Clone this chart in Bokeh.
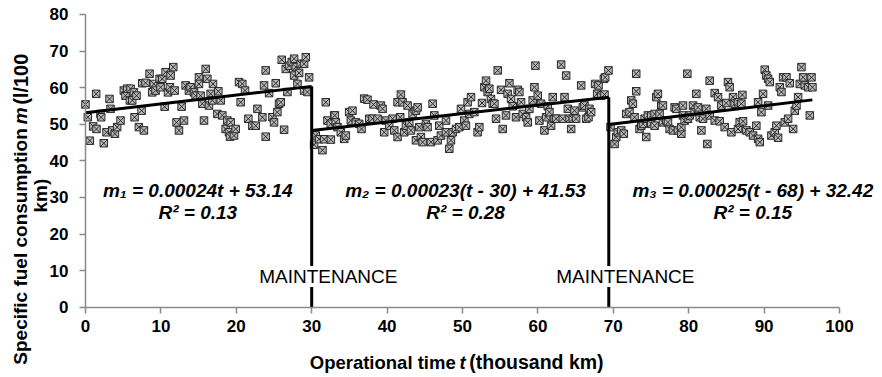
import math
from bokeh.plotting import figure
from bokeh.models import Label, FixedTicker, Range1d
from bokeh.embed import file_html
from bokeh.resources import INLINE

# ---- data: operational time t (thousand km) and specific fuel consumption m (l/100 km)
t1 = [0, 0.31, 0.58, 1.02, 1.42, 1.46, 1.99, 2.08, 2.43, 2.79, 3.19, 3.32, 3.54, 3.90, 4.2, 4.65,
      5.09, 5.31, 5.53, 5.89, 5.98, 6.2, 6.42, 6.51, 6.77, 7.08, 7.44, 7.53, 7.75, 7.97, 8.5, 8.85,
      9.07, 9.3, 9.83, 9.96, 10.18, 10.5, 10.63, 10.94, 11.2, 11.29, 11.64, 11.82, 12.08, 12.4, 12.75,
      13.06, 13.28, 13.72, 13.94, 14.39, 14.61, 15.05, 15.05, 15.27, 15.5, 15.72, 15.94, 16.16, 16.38,
      16.6, 16.82, 16.91, 17.49, 17.62, 17.93, 18.15, 18.59, 18.81, 19.03, 19.17, 19.26, 19.7, 19.92,
      20.36, 20.58, 20.8, 21.16, 21.6, 22.13, 22.58, 22.8, 23.46, 23.68, 23.9, 23.9, 24.35, 24.79,
      25.01, 25.23, 25.45, 25.67, 25.9, 26.03, 26.34, 26.56, 26.78, 27.0, 27.36, 27.67, 27.67, 27.89,
      28.11, 28.33, 28.55, 28.99, 28.99, 29.22, 29.44, 29.66]
m1 = [55.4, 51.9, 45.5, 49.4, 58.3, 48.7, 52.8, 51.9, 44.8, 47.8, 56.9, 54.2, 48.3, 47.4, 49.2, 51.0,
      59.2, 57.8, 59.7, 56.5, 59.7, 56.5, 58.7, 51.9, 57.8, 49.2, 53.7, 61.2, 48.3, 61.3, 63.8, 58.7,
      61.0, 59.2, 62.4, 60.1, 62.4, 54.8, 64.2, 58.7, 60.1, 63.3, 65.6, 59.2, 50.5, 48.3, 54.8,
      51.0, 60.6, 59.2, 60.1, 58.7, 57.8, 62.8, 61.0, 57.8, 55.6, 51.0, 65.1, 62.4, 55.1,
      58.3, 56.5, 61.0, 52.8, 59.0, 56.5, 52.4, 48.7, 51.0, 47.8, 46.6, 50.5, 46.9, 48.7,
      61.5, 56.0, 61.0, 59.2, 51.5, 49.6, 49.6, 54.2, 51.9, 60.6, 64.7, 46.6, 58.5, 51.9,
      50.5, 61.2, 53.3, 55.6, 56.0, 67.6, 48.5, 65.1, 58.8, 66.0, 67.0, 67.9, 63.3, 65.6,
      61.0, 64.0, 66.5, 66.5, 59.2, 68.3, 58.8, 62.8]

t2 = [30.32, 30.54, 30.98, 31.43, 31.65, 31.87, 32.09, 32.53, 32.54, 32.98, 33.07, 33.2, 33.42, 33.86,
      34.31, 34.53, 34.97, 35.19, 35.41, 35.86, 36.3, 36.61, 36.96, 37.4, 37.63, 38.07, 38.2, 38.73,
      39.17, 39.4, 39.62, 39.84, 40.28, 40.73, 40.95, 41.39, 41.39, 41.74, 41.83, 42.05, 42.28, 42.5,
      42.72, 42.94, 43.16, 43.38, 43.83, 43.83, 44.05, 44.27, 44.49, 44.71, 45.15, 45.37, 45.82, 46.04,
      46.26, 46.7, 46.92, 47.14, 47.81, 47.81, 48.25, 48.47, 48.7, 49.14, 49.58, 49.8,
      50.24, 50.46, 50.68, 50.9, 51.13, 51.57, 52.01, 52.23, 52.59, 52.9, 53.12, 53.34, 53.56, 53.78,
      54.0, 54.23, 54.45, 54.67, 55.11, 55.33, 55.77, 55.99, 56.22, 56.44, 56.66, 57.1, 57.32, 57.54,
      57.77, 57.99, 58.43, 58.65, 58.87, 59.31, 59.54, 59.67, 59.98, 60.2, 60.42, 60.87, 61.09, 61.31,
      61.53, 61.75, 61.97, 62.2, 62.42, 63.08, 63.3, 63.53, 63.75, 63.97, 64.19, 64.41, 64.63, 64.85,
      65.07, 65.74, 65.96, 66.18, 66.4, 66.71, 66.84, 67.06, 67.59, 67.86, 68.04, 68.39, 68.75, 68.83,
      68.92, 69.36]
m2 = [44.4, 46.9, 45.9, 42.9, 45.9, 56.0, 51.0, 50.1, 45.8, 52.4, 52.4, 50.5, 49.2, 47.8,
      46.0, 46.9, 53.3, 51.0, 53.7, 50.5, 50.1, 48.7, 57.0, 56.7, 51.5, 51.5, 55.4, 51.5,
      55.1, 54.2, 47.8, 51.0, 49.6, 51.5, 48.3, 46.5, 56.0, 51.9, 58.1, 56.0, 47.8, 49.6,
      55.1, 50.5, 48.3, 52.8, 53.7, 45.6, 54.6, 49.2, 46.5, 45.1, 50.1, 49.2, 45.1, 55.6,
      52.4, 45.6, 49.6, 46.9, 51.0, 47.8, 43.3, 45.6, 47.8, 48.7, 49.2, 54.2,
      51.0, 49.6, 56.0, 52.8, 57.4, 53.3, 47.8, 49.2, 55.8, 60.1, 61.9, 58.8, 59.7, 56.9,
      55.6, 55.6, 51.5, 64.7, 59.4, 48.7, 52.4, 58.3, 61.2, 56.9, 54.9, 51.9, 59.4, 58.8,
      56.0, 52.8, 51.9, 50.5, 54.2, 56.5, 60.1, 66.0, 57.8, 51.0, 55.6, 48.3, 51.9, 54.9,
      53.3, 49.6, 57.4, 51.5, 51.5, 66.3, 51.5, 57.4, 63.3, 54.2, 51.5, 48.7, 51.5, 53.7,
      51.5, 60.6, 54.6, 55.1, 51.5, 51.9, 54.2, 53.3, 61.0, 58.3, 60.6, 57.8, 62.4, 58.1,
      62.8, 64.7]

t3 = [69.63, 70.17, 70.39, 70.61, 71.05, 71.39, 71.71, 72.15, 72.38, 72.6, 72.82, 73.04, 73.04, 73.48,
      73.71, 73.93, 74.15, 74.37, 74.59, 75.03, 75.03, 75.48, 75.48, 75.7, 75.92, 76.14, 76.36, 76.58,
      76.58, 77.03, 77.25, 77.47, 77.91, 78.13, 78.36, 78.58, 79.02, 79.02, 79.24, 79.24, 79.46, 79.82,
      79.9, 80.13, 80.57, 80.79, 81.01, 81.23, 81.46, 81.68, 81.9, 82.34, 82.47, 82.78, 82.78,
      83.45, 83.45, 83.89, 84.11, 84.33, 84.77, 84.99, 85.21, 85.43, 85.66, 85.88, 86.1, 86.54, 86.54,
      86.76, 86.98, 87.12, 87.2, 87.65, 88.09, 88.53, 88.97, 89.2, 89.2, 89.42, 89.64, 89.86, 90.08,
      90.3, 90.53, 90.53, 90.75, 90.97, 91.41, 91.63, 91.85, 92.08, 92.3, 92.52, 92.74, 92.96, 93.18,
      93.4, 93.85, 94.07, 94.29, 94.51, 94.73, 94.95, 95.17, 95.4, 95.84, 96.06, 96.28, 96.41]
m3 = [49.2, 44.6, 46.5, 47.8, 48.3, 47.4, 52.8, 53.3, 56.5, 55.6, 51.9, 63.8, 59.0, 48.7,
      49.6, 50.1, 51.5, 46.5, 52.4, 50.1, 52.4, 49.6, 52.8, 57.4, 58.3, 52.8, 55.1, 55.1,
      50.5, 51.0, 50.5, 48.7, 48.3, 54.6, 54.2, 48.3, 47.4, 49.2, 55.1, 52.4, 51.0, 63.8,
      51.5, 52.4, 55.1, 53.3, 58.3, 54.6, 51.9, 48.3, 51.5, 54.2, 44.6, 61.9, 52.4,
      58.5, 51.0, 57.4, 50.8, 55.1, 49.2, 55.8, 61.5, 60.1, 47.8, 57.4, 55.6, 56.0, 48.7,
      50.5, 55.6, 58.0, 50.8, 48.3, 47.8, 46.9, 49.6, 46.0, 56.0, 45.1, 53.3, 58.3, 64.9,
      63.3, 62.4, 55.1, 61.5, 46.9, 47.8, 49.6, 46.3, 60.1, 58.8, 62.8, 50.5, 62.8, 51.5,
      61.2, 48.7, 53.7, 55.1, 57.4, 61.0, 65.6, 62.8, 60.6, 60.1, 52.4, 62.8, 60.1]

# regression lines per operating interval (slope in l/100 km per thousand km)
seg_start = [0, 30, 69.4]
seg_end = [30, 69.4, 96.4]
fit_slope = [0.24, 0.23, 0.25]
fit_at_start = [53.14, 48.3, 49.9]
maintenance_t = [30, 69.4]

eq_texts = ["m\u2081 = 0.00024t + 53.14", "m\u2082 = 0.00023(t - 30) + 41.53", "m\u2083 = 0.00025(t - 68) + 32.42"]
r2_texts = ["R\u00b2 = 0.13", "R\u00b2 = 0.28", "R\u00b2 = 0.15"]
eq_x = [14.9, 50.4, 88.5]

x_ticks = list(range(0, 101, 10))
y_ticks = list(range(0, 81, 10))

FONT = "Liberation Sans"

# frame covers the whole canvas; axes are pinned at t = 0 and m = 0
p = figure(width=882, height=377, output_backend="svg", toolbar_location=None,
           x_range=Range1d(-11.27, 105.7), y_range=Range1d(-19.2, 83.8),
           min_border=0, min_border_left=0, min_border_right=0, min_border_top=0, min_border_bottom=0)
p.outline_line_color = None
p.grid.visible = False
p.background_fill_color = "white"
p.border_fill_color = "white"

p.xaxis.fixed_location = 0
p.yaxis.fixed_location = 0
p.xaxis.bounds = (0, 100)
p.yaxis.bounds = (0, 80)

for ax, ticks in ((p.xaxis, x_ticks), (p.yaxis, y_ticks)):
    ax.ticker = FixedTicker(ticks=ticks)
    ax.axis_line_color = "#8a8a8a"
    ax.axis_line_width = 1.5
    ax.major_tick_line_color = "#8a8a8a"
    ax.major_tick_line_width = 1.5
    ax.major_tick_out = 6
    ax.major_tick_in = 0
    ax.minor_tick_line_color = None
    ax.major_label_text_font = FONT
    ax.major_label_text_font_style = "bold"
    ax.major_label_text_font_size = "17px"
    ax.major_label_text_color = "black"
p.xaxis.major_label_standoff = 7
p.yaxis.major_label_standoff = 11

# scatter points
p.scatter(t1 + t2 + t3, m1 + m2 + m3, marker="square_x", size=7.5,
          fill_color="#b8b8b8", line_color="#2a2a2a", line_width=1)

# regression lines
ends = []
for s, e, k, b in zip(seg_start, seg_end, fit_slope, fit_at_start):
    p.line([s, e], [b, b + k * (e - s)], line_color="black", line_width=3)
    ends.append(b + k * (e - s))

# maintenance verticals
p.segment(x0=maintenance_t, y0=[0, 0], x1=maintenance_t, y1=ends[:2], line_color="black", line_width=3)

for t in maintenance_t:
    p.add_layout(Label(x=t + 2.2, y=8.4, text="MAINTENANCE", text_align="center", text_baseline="middle",
                       text_font=FONT, text_font_size="19px", text_color="black",
                       background_fill_color="white"))

for x, eq, r2 in zip(eq_x, eq_texts, r2_texts):
    p.add_layout(Label(x=x, y=32.0, text=eq, text_align="center", text_baseline="middle",
                       text_font=FONT, text_font_size="19px", text_font_style="bold italic",
                       text_color="black"))
    p.add_layout(Label(x=x, y=26.0, text=r2, text_align="center", text_baseline="middle",
                       text_font=FONT, text_font_size="19px", text_font_style="bold italic",
                       text_color="black"))

# x axis title
p.add_layout(Label(x=49.1, y=-15.1, text="Operational time", text_align="right", text_baseline="middle",
                   text_font=FONT, text_font_size="18.5px", text_font_style="bold", text_color="black"))
p.add_layout(Label(x=50.0, y=-15.1, text="t", text_align="center", text_baseline="middle",
                   text_font=FONT, text_font_size="18.5px", text_font_style="bold italic", text_color="black"))
p.add_layout(Label(x=50.9, y=-15.1, text="(thousand km)", text_align="left", text_baseline="middle",
                   text_font=FONT, text_font_size="19.5px", text_font_style="bold", text_color="black"))

# y axis title (two lines)
p.add_layout(Label(x=-8.6, y=48.9, text="Specific fuel consumption", angle=math.pi / 2,
                   text_align="right", text_baseline="middle",
                   text_font=FONT, text_font_size="19px", text_font_style="bold", text_color="black"))
p.add_layout(Label(x=-8.6, y=52.3, text="m", angle=math.pi / 2,
                   text_align="center", text_baseline="middle",
                   text_font=FONT, text_font_size="19px", text_font_style="bold italic", text_color="black"))
p.add_layout(Label(x=-8.6, y=55.3, text="(l/100", angle=math.pi / 2,
                   text_align="left", text_baseline="middle",
                   text_font=FONT, text_font_size="20px", text_font_style="bold", text_color="black"))
p.add_layout(Label(x=-5.9, y=30.5, text="km)", angle=math.pi / 2,
                   text_align="center", text_baseline="middle",
                   text_font=FONT, text_font_size="19px", text_font_style="bold", text_color="black"))

open("out.html", "w").write(file_html(p, INLINE))
